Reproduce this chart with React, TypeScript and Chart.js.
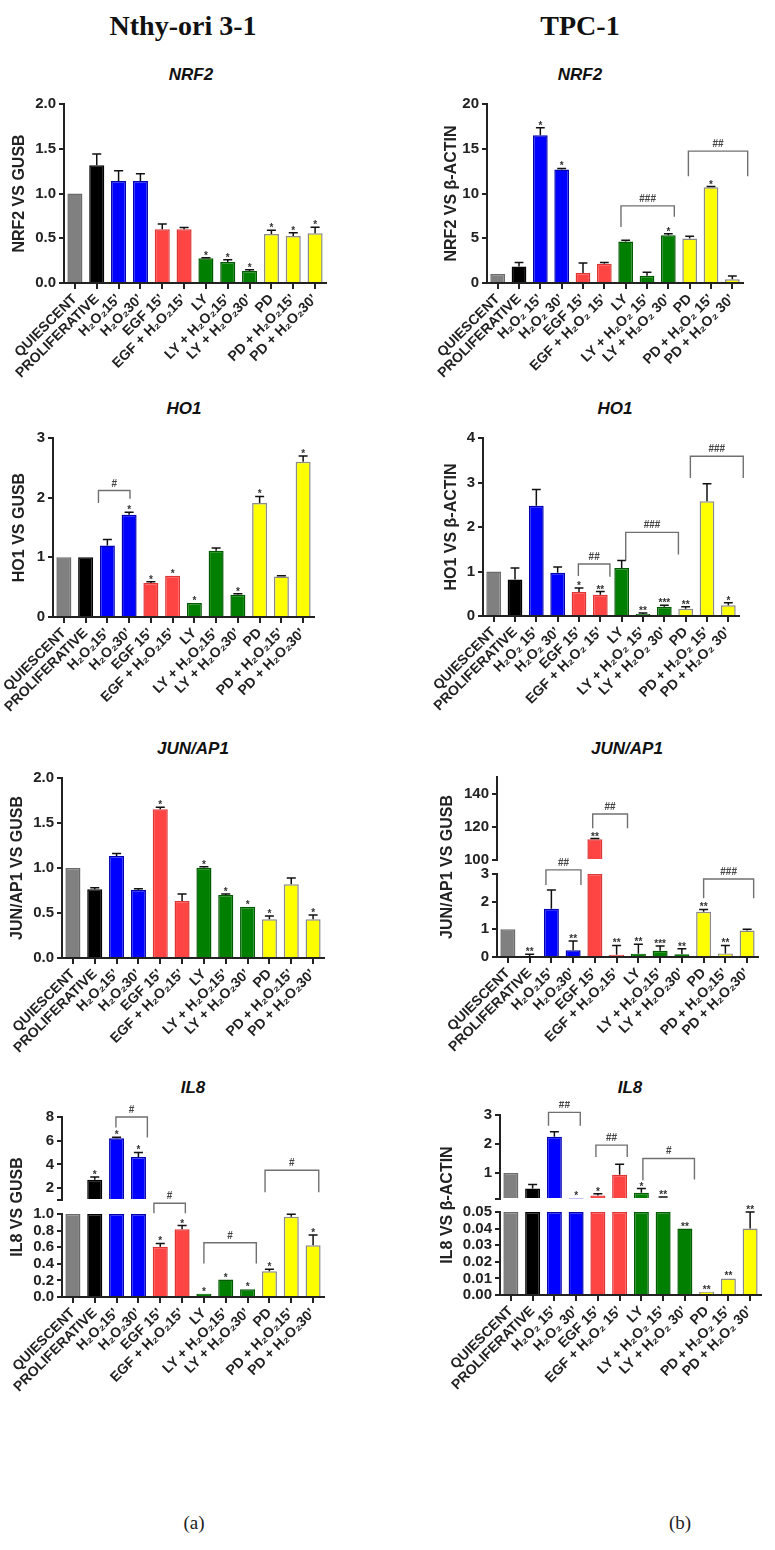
import React, { useEffect, useRef } from 'react';
import { Chart, registerables } from 'chart.js';

Chart.register(...registerables);

const FONT = '"Liberation Sans", Arial, Helvetica, sans-serif';
const SERIF = '"Liberation Serif", "Times New Roman", Times, serif';

// ---------- categories ----------
const CATEGORIES_A = ['QUIESCENT', 'PROLIFERATIVE', 'H₂O₂15’', 'H₂O₂30’', 'EGF 15’', 'EGF + H₂O₂15’', 'LY', 'LY + H₂O₂15’', 'LY + H₂O₂30’', 'PD', 'PD + H₂O₂15’', 'PD + H₂O₂30’'];
const CATEGORIES_B = ['QUIESCENT', 'PROLIFERATIVE', 'H₂O₂ 15’', 'H₂O₂ 30’', 'EGF 15’', 'EGF + H₂O₂ 15’', 'LY', 'LY + H₂O₂ 15’', 'LY + H₂O₂ 30’', 'PD', 'PD + H₂O₂ 15’', 'PD + H₂O₂ 30’'];

const BAR_COLORS = ['#808080', '#000000', '#0000FF', '#0000FF', '#FF4444', '#FF4444', '#007F00', '#007F00', '#007F00', '#FFFF00', '#FFFF00', '#FFFF00'];
const BAR_BORDERS = ['#6a6a6a', '#000000', '#0000B0', '#0000B0', '#E03535', '#E03535', '#005A00', '#005A00', '#005A00', '#8A8A8A', '#8A8A8A', '#8A8A8A'];

type Bracket = { from: number; to: number; top: number; dropL: number; dropR: number; label: string; upper?: boolean };

// ---------- NRF2 (a) ----------
const NRF2_A_VALUES = [1.0, 1.315, 1.14, 1.14, 0.6, 0.6, 0.276, 0.235, 0.134, 0.547, 0.525, 0.555];
const NRF2_A_SEM = [0, 0.125, 0.115, 0.08, 0.06, 0.02, 0.005, 0.025, 0.015, 0.041, 0.037, 0.067];
const NRF2_A_STARS = ['', '', '', '', '', '', '*', '*', '*', '*', '*', '*'];
const NRF2_A_BRACKETS: Bracket[] = [];
const NRF2_A_TICKS = [0, 0.5, 1, 1.5, 2];
const NRF2_A_TICK_LABELS = ['0.0', '0.5', '1.0', '1.5', '2.0'];

// ---------- NRF2 (b) ----------
const NRF2_B_VALUES = [1.0, 1.83, 16.5, 12.69, 1.12, 2.16, 4.63, 0.82, 5.34, 4.96, 10.71, 0.41];
const NRF2_B_SEM = [0, 0.45, 0.85, 0.11, 1.12, 0.12, 0.15, 0.37, 0.15, 0.26, 0.07, 0.37];
const NRF2_B_STARS = ['', '', '*', '*', '', '', '', '', '*', '', '*', ''];
const NRF2_B_BRACKETS: Bracket[] = [
  { from: 5.78, to: 8.28, top: 8.62, dropL: 6.27, dropR: 7.39, label: '###' },
  { from: 8.94, to: 11.72, top: 14.74, dropL: 11.94, dropR: 11.94, label: '##' },
];
const NRF2_B_TICKS = [0, 5, 10, 15, 20];
const NRF2_B_TICK_LABELS = ['0', '5', '10', '15', '20'];

// ---------- HO1 (a) ----------
const HO1_A_VALUES = [1.0, 1.0, 1.2, 1.715, 0.57, 0.69, 0.235, 1.11, 0.374, 1.91, 0.68, 2.6];
const HO1_A_SEM = [0, 0, 0.1, 0.04, 0.02, 0, 0, 0.046, 0.016, 0.11, 0.01, 0.1];
const HO1_A_STARS = ['', '', '', '*', '*', '*', '*', '', '*', '*', '', '*'];
const HO1_A_BRACKETS: Bracket[] = [
  { from: 1.59, to: 3.04, top: 2.12, dropL: 1.91, dropR: 1.98, label: '#' },
];
const HO1_A_TICKS = [0, 1, 2, 3];
const HO1_A_TICK_LABELS = ['0', '1', '2', '3'];

// ---------- HO1 (b) ----------
const HO1_B_VALUES = [1.0, 0.82, 2.48, 0.97, 0.54, 0.48, 1.08, 0.045, 0.21, 0.165, 2.58, 0.24];
const HO1_B_SEM = [0, 0.26, 0.36, 0.13, 0.09, 0.07, 0.17, 0.022, 0.03, 0.045, 0.39, 0.06];
const HO1_B_STARS = ['', '', '', '', '*', '**', '', '**', '***', '**', '', '*'];
const HO1_B_BRACKETS: Bracket[] = [
  { from: 3.97, to: 5.45, top: 1.17, dropL: 0.9, dropR: 0.88, label: '##' },
  { from: 6.19, to: 8.66, top: 1.88, dropL: 1.25, dropR: 1.38, label: '###' },
  { from: 9.22, to: 11.7, top: 3.59, dropL: 3.1, dropR: 3.1, label: '###' },
];
const HO1_B_TICKS = [0, 1, 2, 3, 4];
const HO1_B_TICK_LABELS = ['0', '1', '2', '3', '4'];

// ---------- JUN/AP1 (a) ----------
const JUN_A_VALUES = [1.0, 0.763, 1.133, 0.756, 1.652, 0.633, 1.003, 0.7, 0.57, 0.43, 0.819, 0.43];
const JUN_A_SEM = [0, 0.017, 0.027, 0.014, 0.022, 0.077, 0.012, 0.01, 0, 0.037, 0.07, 0.048];
const JUN_A_STARS = ['', '', '', '', '*', '', '*', '*', '*', '*', '', '*'];
const JUN_A_BRACKETS: Bracket[] = [];
const JUN_A_TICKS = [0, 0.5, 1, 1.5, 2];
const JUN_A_TICK_LABELS = ['0.0', '0.5', '1.0', '1.5', '2.0'];

// ---------- JUN/AP1 (b) (broken axis) ----------
const JUN_B_VALUES = [1.0, 0.02, 1.74, 0.24, 112.5, 0.08, 0.12, 0.23, 0.1, 1.64, 0.13, 0.96];
const JUN_B_SEM = [0, 0.08, 0.68, 0.34, 0.4, 0.34, 0.34, 0.17, 0.2, 0.08, 0.29, 0.04];
const JUN_B_STARS = ['', '**', '', '**', '**', '**', '**', '***', '**', '**', '**', ''];
const JUN_B_BRACKETS: Bracket[] = [
  { from: 1.75, to: 3.36, top: 3.15, dropL: 2.6, dropR: 2.6, label: '##' },
  { from: 3.9, to: 5.5, top: 127.7, dropL: 119.1, dropR: 119.1, label: '##', upper: true },
  { from: 9.0, to: 11.3, top: 2.82, dropL: 2.12, dropR: 2.12, label: '###' },
];
const JUN_B_LOW_TICKS = [0, 1, 2, 3];
const JUN_B_LOW_TICK_LABELS = ['0', '1', '2', '3'];
const JUN_B_HIGH_TICKS = [100, 120, 140];
const JUN_B_HIGH_TICK_LABELS = ['100', '120', '140'];

// ---------- IL8 (a) (broken axis) ----------
const IL8_A_VALUES = [1.0, 2.71, 6.21, 4.62, 0.605, 0.815, 0.04, 0.21, 0.093, 0.31, 0.968, 0.625];
const IL8_A_SEM = [0, 0.23, 0.08, 0.39, 0.04, 0.045, 0, 0, 0, 0.025, 0.028, 0.121];
const IL8_A_STARS = ['', '*', '*', '*', '*', '*', '*', '*', '*', '*', '', '*'];
const IL8_A_BRACKETS: Bracket[] = [
  { from: 1.97, to: 3.41, top: 8.0, dropL: 7.12, dropR: 6.27, label: '#', upper: true },
  { from: 3.71, to: 5.15, top: 1.129, dropL: 1.008, dropR: 1.008, label: '#' },
  { from: 6.0, to: 8.4, top: 0.653, dropL: 0.403, dropR: 0.403, label: '#' },
  { from: 8.8, to: 11.26, top: 3.51, dropL: 1.66, dropR: 1.66, label: '#', upper: true },
];
const IL8_A_LOW_TICKS = [0, 0.2, 0.4, 0.6, 0.8, 1.0];
const IL8_A_LOW_TICK_LABELS = ['0.0', '0.2', '0.4', '0.6', '0.8', '1.0'];
const IL8_A_HIGH_TICKS = [1, 2, 4, 6, 8];
const IL8_A_HIGH_TICK_LABELS = ['', '2', '4', '6', '8'];

// ---------- IL8 (b) (broken axis) ----------
const IL8_B_VALUES = [1.0, 0.46, 2.25, 0.12, 0.225, 0.94, 0.32, 0.145, 0.04, 0.002, 0.01, 0.04];
const IL8_B_SEM = [0, 0.14, 0.17, 0, 0.055, 0.36, 0.14, 0.025, 0, 0, 0, 0.01];
const IL8_B_STARS = ['', '', '', '*', '*', '', '*', '**', '**', '**', '**', '**'];
const IL8_B_BRACKETS: Bracket[] = [
  { from: 1.73, to: 3.19, top: 3.09, dropL: 2.63, dropR: 2.63, label: '##', upper: true },
  { from: 3.91, to: 5.35, top: 1.96, dropL: 1.55, dropR: 1.55, label: '##', upper: true },
  { from: 6.07, to: 8.44, top: 1.5, dropL: 0.75, dropR: 0.77, label: '#', upper: true },
];
const IL8_B_LOW_TICKS = [0, 0.01, 0.02, 0.03, 0.04, 0.05];
const IL8_B_LOW_TICK_LABELS = ['0.00', '0.01', '0.02', '0.03', '0.04', '0.05'];
const IL8_B_HIGH_TICKS = [0.1, 1, 2, 3];
const IL8_B_HIGH_TICK_LABELS = ['', '1', '2', '3'];

// ---------- layout ----------
type Axis = { min: number; max: number; ticks: number[]; tickLabels: string[] };
type Box = { colLeft: number; left: number; right: number; top: number; bottom: number; titleX: number };
type Panel = {
  yTitle: string;
  categories: string[];
  values: number[];
  sem: number[];
  stars: string[];
  brackets: Bracket[];
  lower: Axis;
  upper?: Axis;
  stackWeights?: number[];
  box: Box;
};

const PAD_TOP = 14;
const PAD_RIGHT = 12;
const X_AXIS_H = 104;

const PANELS: Panel[] = [
  {
    yTitle: 'NRF2 VS GUSB', categories: CATEGORIES_A, values: NRF2_A_VALUES, sem: NRF2_A_SEM, stars: NRF2_A_STARS, brackets: NRF2_A_BRACKETS,
    lower: { min: 0, max: 2, ticks: NRF2_A_TICKS, tickLabels: NRF2_A_TICK_LABELS },
    box: { colLeft: 0, left: 64, right: 326, top: 104, bottom: 283, titleX: 20 },
  },
  {
    yTitle: 'NRF2 VS β-ACTIN', categories: CATEGORIES_B, values: NRF2_B_VALUES, sem: NRF2_B_SEM, stars: NRF2_B_STARS, brackets: NRF2_B_BRACKETS,
    lower: { min: 0, max: 20, ticks: NRF2_B_TICKS, tickLabels: NRF2_B_TICK_LABELS },
    box: { colLeft: 385, left: 487, right: 743, top: 104, bottom: 283, titleX: 452 },
  },
  {
    yTitle: 'HO1 VS GUSB', categories: CATEGORIES_A, values: HO1_A_VALUES, sem: HO1_A_SEM, stars: HO1_A_STARS, brackets: HO1_A_BRACKETS,
    lower: { min: 0, max: 3, ticks: HO1_A_TICKS, tickLabels: HO1_A_TICK_LABELS },
    box: { colLeft: 0, left: 53, right: 314, top: 438, bottom: 617, titleX: 20 },
  },
  {
    yTitle: 'HO1 VS β-ACTIN', categories: CATEGORIES_B, values: HO1_B_VALUES, sem: HO1_B_SEM, stars: HO1_B_STARS, brackets: HO1_B_BRACKETS,
    lower: { min: 0, max: 4, ticks: HO1_B_TICKS, tickLabels: HO1_B_TICK_LABELS },
    box: { colLeft: 385, left: 483, right: 739, top: 438, bottom: 616, titleX: 452 },
  },
  {
    yTitle: 'JUN/AP1 VS GUSB', categories: CATEGORIES_A, values: JUN_A_VALUES, sem: JUN_A_SEM, stars: JUN_A_STARS, brackets: JUN_A_BRACKETS,
    lower: { min: 0, max: 2, ticks: JUN_A_TICKS, tickLabels: JUN_A_TICK_LABELS },
    box: { colLeft: 0, left: 62, right: 324, top: 778, bottom: 958, titleX: 18 },
  },
  {
    yTitle: 'JUN/AP1 VS GUSB', categories: CATEGORIES_A, values: JUN_B_VALUES, sem: JUN_B_SEM, stars: JUN_B_STARS, brackets: JUN_B_BRACKETS,
    lower: { min: 0, max: 3, ticks: JUN_B_LOW_TICKS, tickLabels: JUN_B_LOW_TICK_LABELS },
    upper: { min: 100, max: 150, ticks: JUN_B_HIGH_TICKS, tickLabels: JUN_B_HIGH_TICK_LABELS },
    stackWeights: [83, 14, 83],
    box: { colLeft: 385, left: 497, right: 758, top: 777, bottom: 957, titleX: 448 },
  },
  {
    yTitle: 'IL8 VS GUSB', categories: CATEGORIES_A, values: IL8_A_VALUES, sem: IL8_A_SEM, stars: IL8_A_STARS, brackets: IL8_A_BRACKETS,
    lower: { min: 0, max: 1, ticks: IL8_A_LOW_TICKS, tickLabels: IL8_A_LOW_TICK_LABELS },
    upper: { min: 1, max: 8, ticks: IL8_A_HIGH_TICKS, tickLabels: IL8_A_HIGH_TICK_LABELS },
    stackWeights: [83, 14, 83],
    box: { colLeft: 0, left: 62, right: 324, top: 1117, bottom: 1297, titleX: 18 },
  },
  {
    yTitle: 'IL8 VS β-ACTIN', categories: CATEGORIES_B, values: IL8_B_VALUES, sem: IL8_B_SEM, stars: IL8_B_STARS, brackets: IL8_B_BRACKETS,
    lower: { min: 0, max: 0.05, ticks: IL8_B_LOW_TICKS, tickLabels: IL8_B_LOW_TICK_LABELS },
    upper: { min: 0.1, max: 3, ticks: IL8_B_HIGH_TICKS, tickLabels: IL8_B_HIGH_TICK_LABELS },
    stackWeights: [83, 13, 84],
    box: { colLeft: 385, left: 500, right: 761, top: 1115, bottom: 1295, titleX: 448 },
  },
];

const PANEL_TITLES: { text: string; x: number; y: number }[] = [
  { text: 'NRF2', x: 191, y: 74 },
  { text: 'NRF2', x: 580, y: 74 },
  { text: 'HO1', x: 184, y: 408 },
  { text: 'HO1', x: 615, y: 408 },
  { text: 'JUN/AP1', x: 193, y: 748 },
  { text: 'JUN/AP1', x: 627, y: 748 },
  { text: 'IL8', x: 193, y: 1087 },
  { text: 'IL8', x: 630, y: 1087 },
];

function makeAnnotations(p: Panel, canvasTitleX: number) {
  return {
    id: 'annotations',
    afterDatasetsDraw(chart: any) {
      const ctx = chart.ctx as CanvasRenderingContext2D;
      const xs = chart.scales.x;
      const lo = chart.scales.y;
      const hi = chart.scales.yHi;
      const split = p.upper ? p.lower.max : Infinity;
      const scaleFor = (v: number) => (hi && v > split ? hi : lo);
      const meta = chart.getDatasetMeta(0);
      ctx.save();
      p.values.forEach((v, i) => {
        const el = meta.data[i];
        if (!el) return;
        const cx = el.x;
        const bw = el.width;
        const s = scaleFor(v);
        const y0 = s.getPixelForValue(v);
        let topPx = y0;
        const e = p.sem[i];
        if (e > 0) {
          const y1 = s.getPixelForValue(v + e);
          ctx.strokeStyle = '#111';
          ctx.lineWidth = 1.5;
          ctx.beginPath();
          ctx.moveTo(cx, y0);
          ctx.lineTo(cx, y1);
          ctx.moveTo(cx - bw * 0.3, y1);
          ctx.lineTo(cx + bw * 0.3, y1);
          ctx.stroke();
          topPx = Math.min(y0, y1);
        }
        if (p.stars[i]) {
          ctx.fillStyle = '#333';
          ctx.font = `bold 10px ${FONT}`;
          ctx.textAlign = 'center';
          ctx.textBaseline = 'alphabetic';
          ctx.fillText(p.stars[i], cx, topPx + 1);
        }
      });
      p.brackets.forEach((b) => {
        const s = b.upper && hi ? hi : lo;
        const xl = xs.getPixelForValue(b.from);
        const xr = xs.getPixelForValue(b.to);
        const yt = s.getPixelForValue(b.top);
        const yl = s.getPixelForValue(b.dropL);
        const yr = s.getPixelForValue(b.dropR);
        ctx.strokeStyle = '#707070';
        ctx.lineWidth = 1.4;
        ctx.beginPath();
        ctx.moveTo(xl, yl);
        ctx.lineTo(xl, yt);
        ctx.lineTo(xr, yt);
        ctx.lineTo(xr, yr);
        ctx.stroke();
        ctx.fillStyle = '#444';
        ctx.font = `bold 10px ${FONT}`;
        ctx.textAlign = 'center';
        ctx.textBaseline = 'alphabetic';
        ctx.fillText(b.label, (xl + xr) / 2, yt - 4);
      });
      ctx.restore();
    },
    afterDraw(chart: any) {
      const ctx = chart.ctx as CanvasRenderingContext2D;
      const a = chart.chartArea;
      ctx.save();
      ctx.translate(canvasTitleX, (a.top + a.bottom) / 2);
      ctx.rotate(-Math.PI / 2);
      ctx.font = `bold 16px ${FONT}`;
      ctx.fillStyle = '#222';
      ctx.textAlign = 'center';
      ctx.textBaseline = 'middle';
      ctx.fillText(p.yTitle, 0, 0);
      ctx.restore();
    },
  };
}

function ChartPanel({ p }: { p: Panel }) {
  const ref = useRef<HTMLCanvasElement>(null);
  const cLeft = p.box.colLeft;
  const cTop = p.box.top - PAD_TOP;
  const cW = p.box.right + PAD_RIGHT - cLeft;
  const cH = p.box.bottom + X_AXIS_H - cTop;
  const yW = p.box.left - cLeft;

  useEffect(() => {
    if (!ref.current) return;
    const makeY = (ax: Axis, extra: any) => ({
      type: 'linear',
      position: 'left',
      min: ax.min,
      max: ax.max,
      afterBuildTicks: (s: any) => {
        s.ticks = ax.ticks.map((v) => ({ value: v }));
      },
      afterFit: (s: any) => {
        s.width = yW;
        s.paddingTop = 0;
        s.paddingBottom = 0;
      },
      ticks: {
        autoSkip: false,
        callback: (_v: any, i: number) => ax.tickLabels[i],
        font: { family: FONT, size: 15, weight: 'bold' },
        color: '#222',
        padding: 3,
      },
      grid: { display: true, drawOnChartArea: false, drawTicks: true, tickLength: 5, color: '#222', lineWidth: 2 },
      border: { display: true, color: '#222', width: 2 },
      ...extra,
    });

    const scales: any = {
      x: {
        type: 'category',
        offset: true,
        afterFit: (s: any) => {
          s.height = X_AXIS_H;
          s.paddingLeft = 0;
          s.paddingRight = 0;
        },
        ticks: {
          autoSkip: false,
          maxRotation: 45,
          minRotation: 45,
          font: { family: FONT, size: 14, weight: 'bold' },
          color: '#222',
          padding: 2,
        },
        grid: { display: true, drawOnChartArea: false, drawTicks: true, tickLength: 6, offset: false, color: '#222', lineWidth: 2 },
        border: { display: true, color: '#222', width: 2 },
      },
    };

    const common = {
      backgroundColor: BAR_COLORS,
      borderColor: BAR_BORDERS,
      borderWidth: 1.5,
      barPercentage: 0.69,
      categoryPercentage: 1,
      grouped: false,
    };
    const datasets: any[] = [];
    if (p.upper) {
      const w = p.stackWeights || [1, 0.2, 1];
      scales.y = makeY(p.lower, { stack: 'brk', stackWeight: w[0], weight: 1 });
      scales.yGap = {
        type: 'linear',
        position: 'left',
        display: false,
        stack: 'brk',
        stackWeight: w[1],
        weight: 2,
        afterFit: (s: any) => {
          s.width = yW;
        },
      };
      scales.yHi = makeY(p.upper, { stack: 'brk', stackWeight: w[2], weight: 3 });
      datasets.push({ ...common, data: p.values.map((v) => Math.min(v, p.lower.max)), yAxisID: 'y' });
      datasets.push({ ...common, data: p.values.map((v) => (v > p.lower.max ? v : null)), yAxisID: 'yHi', base: p.upper.min });
    } else {
      scales.y = makeY(p.lower, {});
      datasets.push({ ...common, data: p.values, yAxisID: 'y' });
    }

    const chart = new Chart(ref.current, {
      type: 'bar',
      data: { labels: p.categories, datasets },
      options: {
        responsive: false,
        animation: false,
        events: [],
        devicePixelRatio: 1,
        layout: { padding: { top: PAD_TOP, right: PAD_RIGHT, left: 0, bottom: 0 } },
        plugins: { legend: { display: false }, tooltip: { enabled: false }, title: { display: false } },
        scales,
      } as any,
      plugins: [makeAnnotations(p, p.box.titleX - cLeft)],
    });
    return () => chart.destroy();
  }, []);

  return (
    <canvas
      ref={ref}
      width={cW}
      height={cH}
      style={{ position: 'absolute', left: cLeft, top: cTop, width: cW, height: cH }}
    />
  );
}

const centered = (x: number, y: number): React.CSSProperties => ({
  position: 'absolute',
  left: x,
  top: y,
  transform: 'translate(-50%, -50%)',
  whiteSpace: 'nowrap',
  lineHeight: 1,
});

export default function App() {
  return (
    <div style={{ position: 'absolute', left: 0, top: 0, width: 775, height: 1550, background: '#ffffff', overflow: 'hidden' }}>
      <div style={{ ...centered(183, 26), fontFamily: SERIF, fontWeight: 'bold', fontSize: 28, color: '#111' }}>Nthy-ori 3-1</div>
      <div style={{ ...centered(580, 26), fontFamily: SERIF, fontWeight: 'bold', fontSize: 28, color: '#111' }}>TPC-1</div>
      {PANEL_TITLES.map((t, i) => (
        <div key={i} style={{ ...centered(t.x, t.y), fontFamily: FONT, fontWeight: 'bold', fontStyle: 'italic', fontSize: 17, color: '#111' }}>
          {t.text}
        </div>
      ))}
      {PANELS.map((p, i) => (
        <ChartPanel key={i} p={p} />
      ))}
      <div style={{ ...centered(194, 1522), fontFamily: SERIF, fontSize: 19, color: '#222' }}>(a)</div>
      <div style={{ ...centered(680, 1522), fontFamily: SERIF, fontSize: 19, color: '#222' }}>(b)</div>
    </div>
  );
}
